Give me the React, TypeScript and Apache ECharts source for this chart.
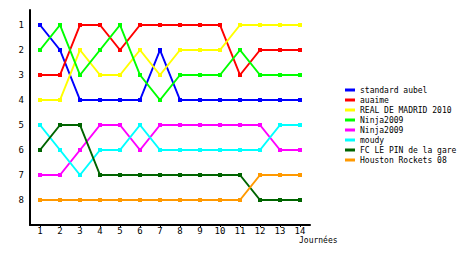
import React, { useEffect, useRef } from "react";
import * as echarts from "echarts";

const days = [1, 2, 3, 4, 5, 6, 7, 8, 9, 10, 11, 12, 13, 14];
const ranks = [1, 2, 3, 4, 5, 6, 7, 8];

const teamNames = [
  "standard aubel",
  "auaime",
  "REAL DE MADRID 2010",
  "Ninja2009",
  "Ninja2009 ",
  "moudy",
  "FC LE PIN de la gare",
  "Houston Rockets 08",
];
const teamColors = ["#0000ff", "#ff0000", "#ffff00", "#00ff00", "#ff00ff", "#00ffff", "#006400", "#ff9900"];

const standardAubel = [1, 2, 4, 4, 4, 4, 2, 4, 4, 4, 4, 4, 4, 4];
const auaime = [3, 3, 1, 1, 2, 1, 1, 1, 1, 1, 3, 2, 2, 2];
const realMadrid = [4, 4, 2, 3, 3, 2, 3, 2, 2, 2, 1, 1, 1, 1];
const ninjaA = [2, 1, 3, 2, 1, 3, 4, 3, 3, 3, 2, 3, 3, 3];
const ninjaB = [7, 7, 6, 5, 5, 6, 5, 5, 5, 5, 5, 5, 6, 6];
const moudy = [5, 6, 7, 6, 6, 5, 6, 6, 6, 6, 6, 6, 5, 5];
const fcLePin = [6, 5, 5, 7, 7, 7, 7, 7, 7, 7, 7, 8, 8, 8];
const houston = [8, 8, 8, 8, 8, 8, 8, 8, 8, 8, 8, 7, 7, 7];

const teamValues = [standardAubel, auaime, realMadrid, ninjaA, ninjaB, moudy, fcLePin, houston];

const FONT = "DejaVu Sans Mono";

export default function App() {
  const ref = useRef<HTMLDivElement>(null);
  useEffect(() => {
    if (!ref.current) return;
    const chart = echarts.init(ref.current, null, { renderer: "svg" });
    chart.setOption({
      animation: false,
      backgroundColor: "#ffffff",
      grid: { left: 30, right: 150, top: 10, bottom: 30 },
      xAxis: {
        type: "value",
        min: 0.5,
        max: 14.5,
        splitLine: { show: false },
        axisLine: { show: true, onZero: false, lineStyle: { color: "#000", width: 2 } },
        axisTick: { show: true, customValues: days, length: 2, lineStyle: { color: "#000" } },
        axisLabel: {
          customValues: days,
          color: "#000",
          fontFamily: FONT,
          fontSize: 9,
          margin: 1,
        },
      },
      yAxis: {
        type: "value",
        inverse: true,
        min: 0.4,
        max: 9,
        splitLine: { show: false },
        axisLine: { show: true, onZero: false, lineStyle: { color: "#000", width: 2 } },
        axisTick: { show: false },
        axisLabel: {
          customValues: ranks,
          color: "#000",
          fontFamily: FONT,
          fontSize: 9,
          margin: 6,
        },
      },
      legend: {
        orient: "vertical",
        left: 340,
        top: 80,
        itemWidth: 10,
        itemHeight: 3,
        itemGap: 0,
        icon: "rect",
        textStyle: { fontFamily: FONT, fontSize: 8, lineHeight: 10, color: "#000" },
        data: teamNames.map((n, i) => ({ name: n, itemStyle: { color: teamColors[i] } })),
      },
      graphic: [
        {
          type: "text",
          left: 299,
          top: 236,
          style: { text: "Journées", font: `8px "${FONT}"`, fill: "#000" },
        },
      ],
      series: teamNames.map((name, i) => ({
        name,
        type: "line",
        data: teamValues[i].map((v, j) => [days[j], v]),
        color: teamColors[i],
        symbol: "rect",
        symbolSize: 4,
        showSymbol: true,
        lineStyle: { width: 2, color: teamColors[i] },
        itemStyle: { color: teamColors[i] },
        emphasis: { disabled: true },
      })),
    });
    return () => chart.dispose();
  }, []);
  return (
    <div
      ref={ref}
      style={{ position: "absolute", left: 0, top: 0, width: 460, height: 255 }}
    />
  );
}
